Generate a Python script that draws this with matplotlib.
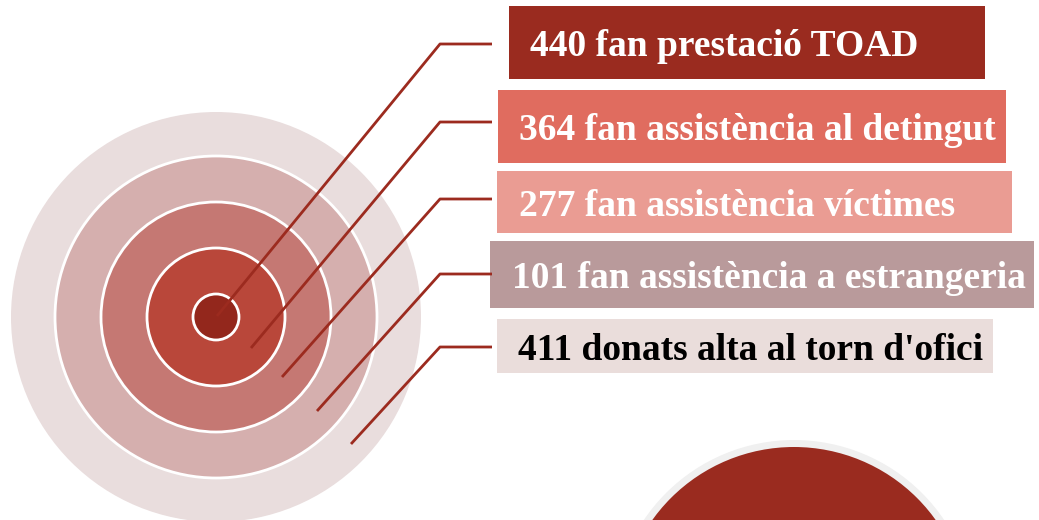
import matplotlib
matplotlib.use("Agg")
import matplotlib.pyplot as plt
from matplotlib.patches import Circle, Rectangle

# dades
counts = [440, 364, 277, 101, 411]
labels = [
    "fan prestació TOAD",
    "fan assistència al detingut",
    "fan assistència víctimes",
    "fan assistència a estrangeria",
    "donats alta al torn d'ofici",
]
box_colors = ["#9A2B1F", "#E06C5F", "#EA9C93", "#B99A9B", "#EADDDB"]
text_colors = ["white", "white", "white", "white", "black"]

# diana
ring_radii = [205, 161, 115, 69, 23]
ring_colors = ["#E9DDDD", "#D5AFAE", "#C57873", "#B9473A", "#93271C"]
center = (216, 317)

# caixes: x0, x1, y0, y1, text_x
boxes = [
    (509, 985, 6, 79, 530),
    (498, 1006, 90, 163, 519),
    (497, 1012, 171, 233, 519),
    (490, 1034, 241, 308, 512),
    (497, 993, 319, 373, 518),
]
line_starts = [(217, 316), (251, 348), (282, 377), (317, 411), (351, 444)]
line_ends_y = [44, 122, 199, 274, 347]
line_color = "#9C2B1F"

fig = plt.figure(figsize=(10.39, 5.2), dpi=100)
ax = fig.add_axes([0, 0, 1, 1])
ax.set_xlim(0, 1039)
ax.set_ylim(520, 0)
ax.set_aspect("equal")
ax.axis("off")

for i, (r, c) in enumerate(zip(ring_radii, ring_colors)):
    edge = "none" if i == 0 else "white"
    ax.add_patch(Circle(center, r, facecolor=c, edgecolor=edge, linewidth=2, zorder=1 + i))

# cercle inferior
ax.add_patch(Circle((794, 621), 181, facecolor="#F0F0F0", edgecolor="none", zorder=1))
ax.add_patch(Circle((794, 621), 174, facecolor="#9A2B1F", edgecolor="none", zorder=2))

for (x0, x1, y0, y1, tx), (sx, sy), ey, n, lab, bc, tc in zip(
    boxes, line_starts, line_ends_y, counts, labels, box_colors, text_colors
):
    ax.plot([sx, 440, 492], [sy, ey, ey], color=line_color, linewidth=2,
            zorder=10, solid_capstyle="butt")
    ax.add_patch(Rectangle((x0, y0), x1 - x0, y1 - y0, facecolor=bc, edgecolor="none", zorder=5))
    ax.text(tx, (y0 + y1) / 2, f"{n} {lab}", color=tc, fontsize=27, fontweight="bold",
            family="Liberation Serif", va="center_baseline", ha="left", zorder=6)

fig.savefig("out.png", dpi=100)
